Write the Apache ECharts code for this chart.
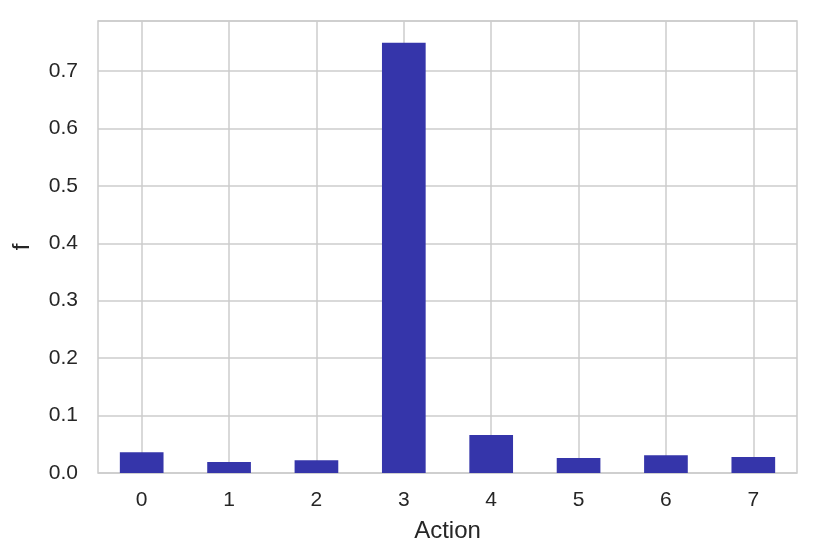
<!DOCTYPE html>
<html>
<head>
<meta charset="utf-8">
<script src="https://cdn.jsdelivr.net/npm/echarts@6/dist/echarts.min.js"></script>
<style>
  html, body { margin: 0; padding: 0; background: #fff; }
  #main { width: 816px; height: 560px; }
</style>
</head>
<body>
<div id="main"></div>
<script>
const actions = ['0', '1', '2', '3', '4', '5', '6', '7'];
const freq = [0.036, 0.019, 0.022, 0.749, 0.066, 0.026, 0.031, 0.028];
const yTicks = [0, 0.1, 0.2, 0.3, 0.4, 0.5, 0.6, 0.7];

const textColor = '#262626';
const gridColor = '#cccccc';

var myChart = echarts.init(document.getElementById('main'));
myChart.setOption({
  animation: false,
  textStyle: { fontFamily: 'Liberation Sans, Arial, sans-serif' },
  grid: {
    left: 98, right: 19, top: 21, bottom: 87,
    show: true, borderColor: gridColor, borderWidth: 1.5
  },
  xAxis: {
    type: 'category',
    data: actions,
    name: 'Action',
    nameLocation: 'middle',
    nameGap: 46,
    nameTextStyle: { fontSize: 24, color: textColor },
    axisLine: { show: false },
    axisTick: { show: false },
    axisLabel: { fontSize: 21, color: textColor, margin: 17 },
    splitLine: { show: true, alignWithLabel: true, lineStyle: { color: gridColor, width: 1.5 } }
  },
  yAxis: {
    type: 'value',
    min: 0,
    max: 0.787,
    interval: 0.1,
    name: 'f',
    nameLocation: 'middle',
    nameGap: 64,
    nameTextStyle: { fontSize: 24, color: textColor },
    axisLine: { show: false },
    axisTick: { show: false },
    axisLabel: {
      fontSize: 21, color: textColor, margin: 20,
      formatter: function (v) {
        var hit = yTicks.find(function (t) { return Math.abs(t - v) < 1e-6; });
        return hit === undefined ? '' : hit.toFixed(1);
      }
    },
    splitLine: { lineStyle: { color: gridColor, width: 1.5 } }
  },
  series: [{
    type: 'bar',
    data: freq,
    barWidth: '50%',
    itemStyle: { color: '#3535aa' }
  }]
});
</script>
</body>
</html>
